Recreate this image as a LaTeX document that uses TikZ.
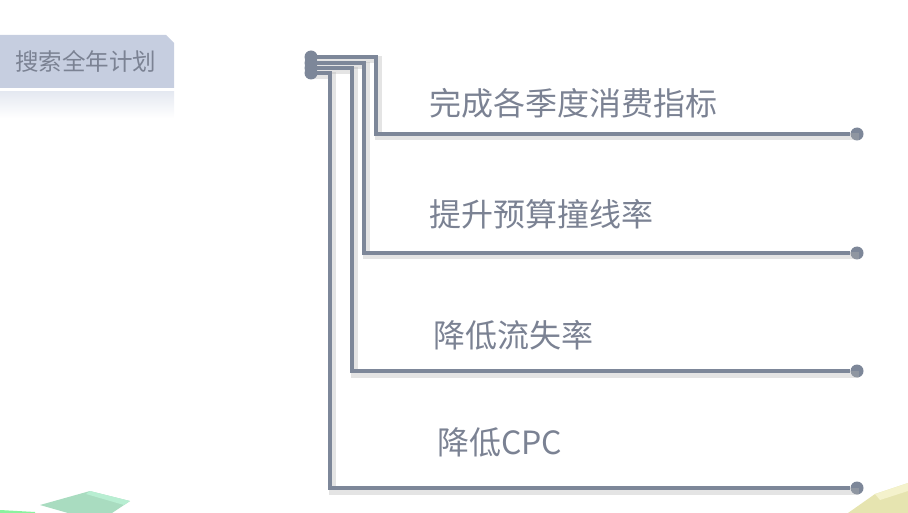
\documentclass[tikz,border=0pt]{standalone}
\usepackage{fontspec}
\newfontfamily\cjk{Noto Sans CJK SC}
\definecolor{linegray}{HTML}{7D8799}
\definecolor{textgray}{HTML}{7B8293}
\definecolor{tabblue}{HTML}{C6CEE0}
\definecolor{leafgreen}{HTML}{A9DCC0}
\definecolor{leaftop}{HTML}{B8EED2}
\definecolor{sandy}{HTML}{E6E4B0}
\definecolor{sandtop}{HTML}{F4F2CC}
\tikzset{
  wire/.style={draw=linegray, line width=4.5pt},
  wireshade/.style={draw=black!30, line width=7pt, opacity=0.35},
  enddot/.style={circle, fill=linegray, inner sep=0pt, minimum size=13pt},
  goal/.style={anchor=west, text=textgray, inner sep=0pt, font=\cjk\fontsize{32}{35}\selectfont},
}

\begin{document}
\begin{tikzpicture}[x=1pt, y=-1pt]
  \useasboundingbox (0,0) rectangle (908,513);

  % tab and its reflection
  \shade[top color=tabblue!45, bottom color=white] (0,92) rectangle (174,118);
  \fill[tabblue] (0,35) -- (166,35) -- (174,43) -- (174,88) -- (0,88) -- cycle;
  \node[text=textgray, font=\cjk\fontsize{23.5}{26}\selectfont] (plan) at (86,61) {搜索全年计划};

  % corner shapes
  \fill[leafgreen] (40,505) -- (90,491) -- (130,501) -- (112,513) -- (68,513) -- cycle;
  \fill[leaftop] (90,491) -- (130,501) -- (124,505) -- (86,494) -- cycle;
  \fill[green!25!leaftop] (0,510) -- (35,512) -- (35,513) -- (0,513) -- cycle;
  \fill[sandy] (848,513) -- (875,494) -- (908,483) -- (908,513) -- cycle;
  \fill[sandtop] (875,494) -- (908,483) -- (908,491) -- (880,500) -- cycle;

  \foreach \i/\ys/\xv/\yh in {1/57/376/134, 2/63/364/253, 3/68/352/371, 4/73/330/488}{
    \coordinate (s\i) at (311,\ys);
    \coordinate (c\i) at (\xv,\yh);
    \node[enddot] (e\i) at (857,\yh) {};
    \draw[wireshade] ([shift={(2,3)}]s\i) -| ([shift={(2,3)}]c\i) -- ([shift={(2,3)}]e\i.center);
  }
  \foreach \i in {1,2,3,4}{
    \draw[wire] (s\i) -| (c\i) -- (e\i);
    \node[enddot] (b\i) at (s\i) {};
  }

  \node[goal] (g1) at (429,103) {完成各季度消费指标};
  \node[goal] (g2) at (429,214) {提升预算撞线率};
  \node[goal] (g3) at (433,335) {降低流失率};
  \node[goal] (g4) at (437,442) {降低CPC};
\end{tikzpicture}
\end{document}
